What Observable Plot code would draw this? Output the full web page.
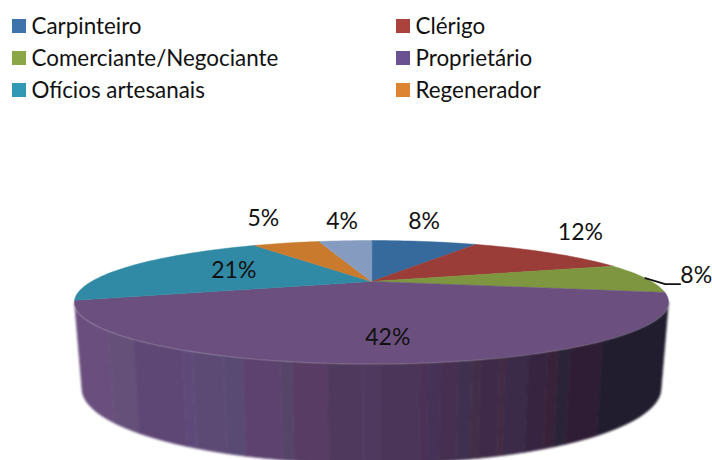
<!DOCTYPE html>
<html>
<head>
<meta charset="utf-8">
<script src="https://cdn.jsdelivr.net/npm/d3@7"></script>
<script src="https://cdn.jsdelivr.net/npm/@observablehq/plot@0.6"></script>
<style>
html,body{margin:0;padding:0;background:#fff;overflow:hidden;width:712px;height:460px}
#legend{height:108px;position:relative;font-family:Lato,sans-serif;font-size:22.4px;color:#111}
#legend div.row{position:absolute;white-space:nowrap;line-height:24px;display:flex;align-items:center}
#legend i{display:inline-block;width:13.5px;height:14px;margin-right:6px}
svg{display:block}
</style>
</head>
<body>
<div id="legend"></div>
<div id="chart"></div>
<script>
const categories = ["Carpinteiro","Clérigo","Comerciante/Negociante","Proprietário","Ofícios artesanais","Regenerador","Outros"];
const shares = [8,12,8,42,21,5,4];
const legendColors = ["#3f73ab","#ab423c","#8aa646","#6a5292","#3198b5","#dc8431"];
const topColors = ["#376a9c","#9a3d38","#7d963f","#6b507f","#318aa5","#c97a2c","#859cc0"];
const bandEdges = [73,108,133,182,192,223,242,280,292,327,363,380,420,428,440,458,472,480,500,505,528,547,558,570,602,667];
const bandColors = ["#6a4f7e","#645079","#5f4775","#5f497b","#5d4a74","#594a74","#5d426f","#564469","#583c64","#4f3a5e","#50395f","#4b3558","#4a3155","#463257","#462f50","#3f3050","#432e48","#3f2b49","#432a43","#3b2a48","#362440","#38223a","#2b2338","#2f1c35","#211d2e"];
const labelNudge = [[0,-20],[31,-20],[51,-3],[-10,-26],[99,6],[-23,-24],[-3,-19]];

// legend (first six categories only)
const legend = d3.select("#legend");
legendColors.forEach((c,i)=>{
  const row = legend.append("div").attr("class","row")
    .style("left",(i%2?396:12)+"px").style("top",(14+Math.floor(i/2)*32)+"px");
  row.append("i").style("background",c);
  row.append("span").text(categories[i]);
});

// perspective model of the disc: units are px from the pie centre
const K=1/3, R=280, S=54.67, R2=273, S2=66.7, DROP=82;
const rim=(deg)=>{const t=deg*Math.PI/180,u=Math.sin(t),v=-Math.cos(t),d=1-K*v;return {x:R*u/d,y:S*v/d}};
const lowRim=(deg)=>{const t=deg*Math.PI/180,u=Math.sin(t),v=-Math.cos(t),d=1-K*v;return {x:R2*u/d,y:DROP+S2*v/d}};
const CX=371;
const thetaAt=(px)=>{let a=109.47,b=250.53;for(let i=0;i<40;i++){const m=(a+b)/2;if(rim(m).x+CX>px)a=m;else b=m;}return (a+b)/2};

// wall bands
const wall=[];
bandColors.forEach((c,i)=>{
  const a=i===0?250.53:thetaAt(bandEdges[i]), b=i===bandColors.length-1?109.47:thetaAt(bandEdges[i+1]);
  const arc=d3.range(13).map(k=>b+(a-b)*k/12);
  arc.forEach(t=>wall.push({id:i,c,...rim(t)}));
  arc.slice().reverse().forEach(t=>wall.push({id:i,c,...lowRim(t)}));
});

// top slices
const slices=[],labels=[];
let cum=0, leaderStart=null;
shares.forEach((s,i)=>{
  const a=cum*3.6,b=(cum+s)*3.6,n=Math.max(4,Math.ceil(s*2));
  slices.push({id:i,c:topColors[i],x:0,y:0});
  d3.range(n+1).forEach(k=>slices.push({id:i,c:topColors[i],...rim(a+(b-a)*k/n)}));
  const m=rim((a+b)/2);
  labels.push({t:s+"%",x:m.x+labelNudge[i][0],y:m.y+labelNudge[i][1]});
  if(i===2) leaderStart=m;
  cum+=s;
});
const leader=[leaderStart,{x:leaderStart.x+20,y:leaderStart.y+6},{x:leaderStart.x+35,y:leaderStart.y+6}];

const plot=Plot.plot({
  width:712,height:352,margin:0,
  x:{domain:[-CX,712-CX],range:[0,712],axis:null},
  y:{domain:[-173,179],range:[0,352],axis:null},
  marks:[
    Plot.line(wall,{x:"x",y:"y",z:"id",fill:"c",stroke:"c",strokeWidth:0.7,curve:"linear-closed"}),
    Plot.line(slices,{x:"x",y:"y",z:"id",fill:"c",stroke:"c",strokeWidth:0.5,curve:"linear-closed"}),
    Plot.line(leader,{x:"x",y:"y",stroke:"#111",strokeWidth:1.6}),
    Plot.text(labels,{x:"x",y:"y",text:"t",fontSize:23,fontFamily:"Lato, sans-serif",fill:"#111"})
  ]
});
document.getElementById("chart").appendChild(plot);
// soften the facets of the wall, as in the source picture
const wallGroup = plot.querySelector('g[aria-label="line"]');
if (wallGroup) wallGroup.style.filter = "blur(0.8px)";
</script>
</body>
</html>
